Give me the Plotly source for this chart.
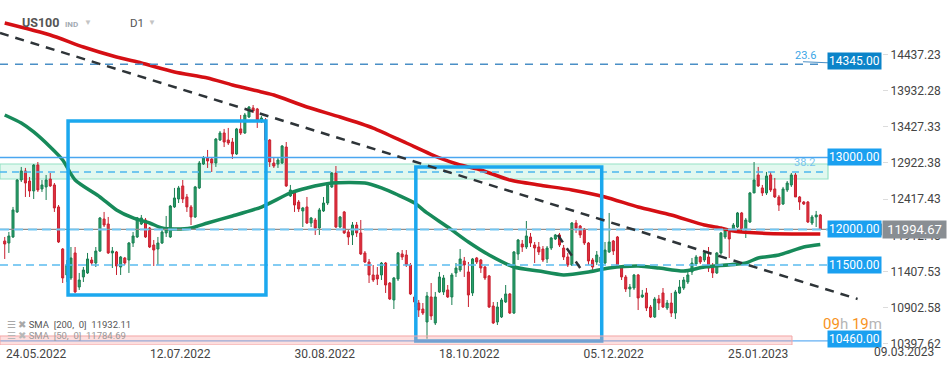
import plotly.graph_objects as go

# ---------------- data ----------------
open_ = [11834, 11806, 11890, 12239, 12685, 12811, 12671, 12532, 12894, 12560,
         12588, 12699, 12616, 12309, 11722, 11360, 11318, 11667, 11192, 11332,
         11388, 11569, 11527, 11694, 12141, 12071, 11667, 11681, 11471, 11597,
         11569, 11806, 11890, 12071, 12127, 12015, 11778, 11722, 11806, 11946,
         11890, 12309, 12420, 12602, 12448, 12309, 12169, 12574, 12908, 12992,
         12978, 12922, 13243, 13341, 13243, 13215, 13048, 13397, 13341, 13564,
         13690, 13676, 13508, 13522, 13243, 12922, 12908, 12922, 13145, 12462,
         12504, 12378, 12253, 12309, 12085, 12127, 12015, 12253, 12364, 12588,
         12783, 12029, 12239, 11960, 11918, 12057, 11946, 11667, 11541, 11360,
         11360, 11360, 11527, 11248, 11011, 11304, 11653, 11639, 11499, 11053,
         10969, 10885, 10704, 11053, 10690, 11123, 11123, 11151, 11053, 11388,
         11429, 11555, 11402, 11109, 11597, 11569, 11471, 11346, 10927, 10704,
         10774, 10983, 11095, 10829, 11653, 11792, 11750, 11890, 11778, 11750,
         11722, 11583, 11736, 11862, 11918, 11736, 11611, 11499, 12085, 12043,
         12001, 11806, 11569, 11541, 11527, 11527, 11681, 11834, 11890, 11471,
         11332, 11164, 11178, 11360, 11053, 11109, 10913, 10774, 11025, 11109,
         10899, 10969, 10829, 11109, 11178, 11262, 11402, 11513, 11611, 11569,
         11611, 11471, 11388, 11667, 11890, 11960, 11974, 12029, 12225, 11988,
         12099, 12504, 12755, 12574, 12504, 12755, 12560, 12448, 12350, 12546,
         12616, 12755, 12448, 12378, 12378, 12085, 12169, 12197]
high = [11890, 11960, 12309, 12699, 12867, 12853, 12727, 12908, 12936, 12685,
        12755, 12783, 12643, 12336, 11736, 11569, 11750, 11750, 11388, 11471,
        11667, 11611, 11750, 12169, 12239, 12169, 11750, 11694, 11625, 11611,
        11820, 11960, 12169, 12197, 12155, 12029, 11848, 11890, 12015, 12183,
        12336, 12574, 12602, 12685, 12490, 12336, 12602, 12950, 13020, 13104,
        13006, 13271, 13369, 13397, 13411, 13271, 13411, 13592, 13620, 13717,
        13731, 13690, 13578, 13550, 13257, 13006, 12992, 13173, 13215, 12616,
        12518, 12406, 12309, 12448, 12169, 12155, 12295, 12448, 12643, 12797,
        12880, 12183, 12253, 11988, 12099, 12099, 12127, 11694, 11583, 11499,
        11471, 11541, 11541, 11262, 11332, 11681, 11708, 11708, 11527, 11081,
        11011, 10969, 11123, 11248, 11123, 11402, 11360, 11220, 11388, 11527,
        11722, 11611, 11541, 11597, 11611, 11583, 11485, 11360, 10983, 10983,
        11039, 11220, 11109, 11694, 11862, 11848, 12113, 11946, 11820, 11820,
        11764, 11764, 11890, 11932, 11946, 11778, 11667, 12099, 12127, 12057,
        12015, 11820, 11597, 11694, 11639, 11820, 12225, 11848, 11904, 11499,
        11360, 11234, 11374, 11374, 11151, 11178, 10941, 11053, 11081, 11178,
        11011, 11109, 11151, 11290, 11332, 11402, 11597, 11639, 11625, 11694,
        11750, 11527, 11681, 11960, 12015, 11988, 12085, 12239, 12239, 12155,
        12518, 12936, 12867, 12616, 12797, 12797, 12713, 12476, 12588, 12671,
        12783, 12783, 12462, 12392, 12392, 12197, 12253, 12211]
low = [11583, 11667, 11876, 12225, 12657, 12448, 12448, 12420, 12518, 12518,
       12406, 12588, 12239, 11806, 11248, 11262, 11290, 11109, 11151, 11262,
       11374, 11499, 11471, 11681, 12029, 11653, 11457, 11360, 11360, 11499,
       11388, 11750, 11876, 12057, 11876, 11736, 11485, 11499, 11792, 11890,
       11876, 12295, 12364, 12364, 12239, 12057, 12155, 12560, 12894, 12853,
       12797, 12867, 13229, 13145, 13173, 12978, 13034, 13313, 13327, 13550,
       13620, 13411, 13480, 13215, 12867, 12853, 12853, 12908, 12588, 12448,
       12239, 12239, 12029, 12071, 12029, 11918, 11918, 12239, 12336, 12574,
       12015, 12015, 11932, 11778, 11778, 11890, 11639, 11527, 11248, 11262,
       11220, 11290, 11109, 11011, 10885, 11276, 11569, 11471, 11081, 10913,
       10774, 10802, 10470, 10732, 10662, 11109, 11081, 11039, 10941, 11332,
       11402, 11332, 10913, 11067, 11513, 11388, 11290, 10899, 10676, 10662,
       10760, 10969, 10815, 10815, 11569, 11681, 11722, 11750, 11527, 11639,
       11541, 11527, 11708, 11848, 11750, 11569, 11471, 11485, 11946, 11876,
       11778, 11499, 11429, 11499, 11499, 11513, 11667, 11639, 11457, 11290,
       11123, 11053, 11151, 10871, 11039, 10857, 10760, 10760, 10871, 10899,
       10871, 10774, 10746, 11095, 11151, 11234, 11360, 11485, 11513, 11541,
       11402, 11318, 11374, 11639, 11862, 11597, 11960, 12015, 11974, 11876,
       12085, 12504, 12588, 12462, 12476, 12518, 12434, 12253, 12336, 12518,
       12588, 12448, 12267, 12336, 12085, 12057, 12029, 11988]
close = [11792, 11904, 12267, 12685, 12811, 12643, 12532, 12894, 12546, 12616,
         12685, 12602, 12295, 11820, 11318, 11499, 11597, 11123, 11290, 11429,
         11583, 11527, 11694, 12155, 12057, 11667, 11694, 11485, 11611, 11527,
         11806, 11904, 12155, 12155, 11890, 11750, 11708, 11806, 11960, 12015,
         12322, 12434, 12574, 12420, 12309, 12169, 12588, 12922, 12992, 12950,
         12922, 13257, 13341, 13215, 13201, 13048, 13397, 13341, 13592, 13703,
         13648, 13522, 13550, 13243, 12936, 12880, 12964, 13159, 12602, 12546,
         12336, 12281, 12295, 12085, 12155, 12015, 12267, 12364, 12616, 12783,
         12029, 12169, 11946, 11890, 12057, 11946, 11653, 11541, 11360, 11290,
         11304, 11527, 11220, 11025, 11318, 11667, 11611, 11499, 11095, 10983,
         10871, 10829, 11067, 10788, 11053, 11332, 11318, 11053, 11360, 11457,
         11583, 11499, 11081, 11583, 11541, 11457, 11318, 10913, 10690, 10913,
         11011, 11095, 10829, 11681, 11848, 11750, 11904, 11806, 11736, 11681,
         11569, 11736, 11876, 11918, 11778, 11611, 11499, 12085, 12015, 11918,
         11806, 11555, 11471, 11639, 11611, 11708, 11820, 11694, 11471, 11332,
         11164, 11192, 11360, 11039, 11081, 10899, 10774, 11025, 10969, 10913,
         10969, 10829, 11123, 11192, 11290, 11360, 11527, 11611, 11541, 11667,
         11457, 11388, 11667, 11946, 11988, 11862, 12057, 12225, 11988, 12127,
         12504, 12685, 12602, 12504, 12741, 12546, 12448, 12336, 12560, 12643,
         12755, 12448, 12378, 12350, 12099, 12169, 12197, 11994.67]
bar_index = list(range(len(close)))

sma200_idx = [0, 11, 19, 27, 33, 41, 49, 55, 62, 65, 73, 81, 89, 97, 105, 110, 115,
              122, 129, 137, 145, 153, 161, 169, 173, 176, 184, 197]
sma200_val = [14875, 14708, 14540, 14401, 14317, 14192, 14108, 14010, 13913, 13871,
              13703, 13564, 13410, 13201, 12992, 12894, 12825, 12685, 12615, 12546,
              12448, 12308, 12197, 12057, 12015, 11974, 11940, 11932.11]
sma50_idx = [0, 4, 7, 11, 14, 17, 23, 27, 31, 35, 38, 41, 45, 49, 55, 62, 69, 73, 79,
             87, 91, 95, 99, 102, 107, 112, 117, 123, 129, 135, 141, 146, 153, 158,
             164, 169, 179, 182, 187, 193, 197]
sma50_val = [13592, 13480, 13355, 13145, 12964, 12685, 12448, 12267, 12155, 12085,
             12015, 12001, 12015, 12085, 12183, 12308, 12504, 12574, 12643, 12643,
             12574, 12476, 12364, 12225, 12029, 11820, 11639, 11471, 11415, 11360,
             11402, 11457, 11485, 11457, 11415, 11471, 11527, 11597, 11639, 11750,
             11784.69]

y_tickvals = [10397.62, 10902.58, 11407.53, 11912.48, 12417.43, 12922.38,
              13427.33, 13932.28, 14437.23]
y_ticktext = ["10397.62", "10902.58", "11407.53", "11912.48", "12417.43",
              "12922.38", "13427.33", "13932.28", "14437.23"]
x_tickvals = [7.6, 42.4, 77.3, 112.2, 147.1, 182.0]
x_ticktext = ["24.05.2022", "12.07.2022", "30.08.2022", "18.10.2022",
              "05.12.2022", "25.01.2023"]
future_tick = "09.03.2023"

levels = [14345.00, 13000.00, 12000.00, 11500.00, 10460.00]
last_price = 11994.67
fib_levels = {"23.6": 14300, "38.2": 12797}
zone_mint = (12699, 12908)
zone_pink = (10383, 10509)
box1 = (15.3, 63.1, 11081, 13508)
box2 = (99.3, 144.2, 10439, 12867)
trend_main = ((-1.14, 14736), (206.0, 11025))
trend_short = ((133.6, 11918), (139.0, 11457))

# ---------------- figure ----------------
FONT = "Roboto"
BLUE_TAG = "#1aa0f0"
fig = go.Figure()

fig.add_trace(go.Candlestick(
    x=bar_index, open=open_, high=high, low=low, close=close,
    increasing=dict(line=dict(color="#1b7f52", width=1), fillcolor="#27a06b"),
    decreasing=dict(line=dict(color="#c8202f", width=1), fillcolor="#e2303f"),
    whiskerwidth=0, hoverinfo="skip", showlegend=False))

fig.add_trace(go.Scatter(x=sma200_idx, y=sma200_val, mode="lines",
                         line=dict(color="#d50f14", width=3.5, shape="spline", smoothing=0.6),
                         hoverinfo="skip", showlegend=False))
fig.add_trace(go.Scatter(x=sma50_idx, y=sma50_val, mode="lines",
                         line=dict(color="#178a5a", width=3.5, shape="spline", smoothing=0.6),
                         hoverinfo="skip", showlegend=False))

shapes = []
xr = 828 / 882
# mint zone
shapes.append(dict(type="rect", xref="paper", yref="y", x0=0, x1=xr, y0=zone_mint[0], y1=zone_mint[1],
                   fillcolor="rgba(200,242,226,0.55)", line=dict(color="#96e2c5", width=1.2), layer="below"))
# fib 38.2 dashed
shapes.append(dict(type="line", xref="paper", yref="y", x0=0, x1=0.935, y0=fib_levels["38.2"], y1=fib_levels["38.2"],
                   line=dict(color="#4cb6ee", width=1.5, dash="7px,5px"), layer="above"))
# fib 23.6 dashed
shapes.append(dict(type="line", xref="paper", yref="y", x0=0, x1=0.93, y0=fib_levels["23.6"], y1=fib_levels["23.6"],
                   line=dict(color="#4a8fc6", width=1.3, dash="8px,7px"), layer="above"))
shapes.append(dict(type="line", xref="paper", yref="y", x0=803 / 882, x1=xr, y0=14335, y1=14320,
                   line=dict(color="#4a8fc6", width=1), layer="above"))
# 13000 solid
shapes.append(dict(type="line", xref="paper", yref="y", x0=0, x1=xr, y0=levels[1], y1=levels[1],
                   line=dict(color="#4aa6f0", width=1.5), layer="above"))
# last price grey + 12000 dashed
shapes.append(dict(type="line", xref="paper", yref="y", x0=0, x1=1, y0=last_price, y1=last_price,
                   line=dict(color="#8d8d8d", width=1.2), layer="above"))
shapes.append(dict(type="line", xref="paper", yref="y", x0=0, x1=xr, y0=levels[2] - 6, y1=levels[2] - 6,
                   line=dict(color="#72c6f2", width=2, dash="9px,5px"), layer="above"))
# 11500 dashed
shapes.append(dict(type="line", xref="paper", yref="y", x0=0, x1=xr, y0=levels[3], y1=levels[3],
                   line=dict(color="#5bbcf0", width=1.5, dash="8px,5px"), layer="above"))
# blue boxes
for bx in (box1, box2):
    shapes.append(dict(type="rect", xref="x", yref="y", x0=bx[0], x1=bx[1], y0=bx[2], y1=bx[3],
                       line=dict(color="#1ba8ee", width=3.5), fillcolor="rgba(0,0,0,0)", layer="above"))
# 10460 solid
shapes.append(dict(type="line", xref="paper", yref="y", x0=0, x1=xr, y0=levels[4] - 20, y1=levels[4] - 20,
                   line=dict(color="#3b9cf0", width=1), layer="above"))
# pink zone
shapes.append(dict(type="rect", xref="paper", yref="y", x0=0, x1=792 / 882, y0=zone_pink[0], y1=zone_pink[1],
                   fillcolor="rgba(250,160,160,0.35)", line=dict(color="#f3a7a7", width=1), layer="above"))
# trend lines
for tl in (trend_main, trend_short):
    shapes.append(dict(type="line", xref="x", yref="y", x0=tl[0][0], y0=tl[0][1], x1=tl[1][0], y1=tl[1][1],
                       line=dict(color="#2e3438", width=2.5, dash="9px,7px"), layer="above"))
# pointer of last-price tag
shapes.append(dict(type="path", xref="paper", yref="y",
                   path=f"M 1.0,{last_price + 90} L 0.9935,{last_price} L 1.0,{last_price - 90} Z",
                   fillcolor="#898e93", line=dict(width=0), layer="above"))
fig.update_layout(shapes=shapes)

ann = []
tag_x = 827 / 882
tag_colors = ["#0b84c9", BLUE_TAG, BLUE_TAG, BLUE_TAG, BLUE_TAG]
for lv, col in zip(levels, tag_colors):
    ann.append(dict(xref="paper", yref="y", x=tag_x, y=lv, xanchor="left", yanchor="middle",
                    text=f"{lv:.2f}", showarrow=False, bgcolor=col, borderpad=1,
                    font=dict(family=FONT, size=12, color="white")))
ann.append(dict(xref="paper", yref="y", x=1.0, y=last_price, xanchor="left", yanchor="middle",
                text=f" {last_price:.2f} ", showarrow=False, bgcolor="#898e93", borderpad=1,
                font=dict(family=FONT, size=13, color="white")))
ann.append(dict(xref="paper", yref="y", x=805 / 882, y=14415, xanchor="center", yanchor="middle",
                text="23.6", showarrow=False, font=dict(family=FONT, size=11, color="#3aa6e6")))
ann.append(dict(xref="paper", yref="y", x=804 / 882, y=12936, xanchor="center", yanchor="middle",
                text="38.2", showarrow=False, font=dict(family=FONT, size=11, color="#78c4ee")))
ann.append(dict(xref="paper", yref="y", x=821 / 882, y=10670, xanchor="left", yanchor="middle",
                text="<span style='color:#f7931e'>09</span><span style='color:#b5b5b5'>h</span> "
                     "<span style='color:#f7931e'>19</span><span style='color:#b5b5b5'>m</span>",
                showarrow=False, font=dict(family=FONT, size=15)))
ann.append(dict(xref="paper", yref="y", x=5 / 882, y=10676, xanchor="left", yanchor="middle",
                text="<span style='color:#a8a8a8'>☰ ✖</span> SMA  [200,  0]  11932.11", showarrow=False,
                font=dict(family=FONT, size=9.5, color="#555")))
ann.append(dict(xref="paper", yref="y", x=5 / 882, y=10509, xanchor="left", yanchor="middle",
                text="<span style='color:#b8b8b8'>☰ ✖</span> SMA  [50,  0]  11784.69", showarrow=False,
                font=dict(family=FONT, size=9.5, color="#999")))
# header
ann.append(dict(xref="paper", yref="paper", x=20 / 882, y=1 - 23 / 345, xanchor="left", yanchor="middle",
                text="<b>US100</b>", showarrow=False, font=dict(family=FONT, size=12.5, color="#555")))
ann.append(dict(xref="paper", yref="paper", x=63 / 882, y=1 - 24 / 345, xanchor="left", yanchor="middle",
                text="<b>IND</b>", showarrow=False, font=dict(family=FONT, size=8, color="#a3abb3")))
ann.append(dict(xref="paper", yref="paper", x=88 / 882, y=1 - 22 / 345, xanchor="center", yanchor="middle",
                text="▼", showarrow=False, font=dict(family=FONT, size=8, color="#c4c4c4")))
ann.append(dict(xref="paper", yref="paper", x=128 / 882, y=1 - 23 / 345, xanchor="left", yanchor="middle",
                text="D1", showarrow=False, font=dict(family=FONT, size=11.5, color="#555")))
ann.append(dict(xref="paper", yref="paper", x=152 / 882, y=1 - 22 / 345, xanchor="center", yanchor="middle",
                text="▼", showarrow=False, font=dict(family=FONT, size=8, color="#c4c4c4")))
ann.append(dict(xref="paper", yref="paper", x=904 / 882, y=-7 / 345, xanchor="center", yanchor="middle",
                text=future_tick, showarrow=False, font=dict(family=FONT, size=12, color="#444")))
fig.update_layout(annotations=ann)

fig.update_layout(
    width=949, height=370,
    margin=dict(l=0, r=67, t=0, b=25),
    paper_bgcolor="white", plot_bgcolor="white",
    showlegend=False, hovermode=False,
    font=dict(family=FONT, size=12, color="#444"),
    xaxis=dict(range=[-1.14, 211.9], showgrid=False, zeroline=False, showline=False,
               tickvals=x_tickvals, ticktext=x_ticktext, ticks="",
               tickfont=dict(family=FONT, size=12, color="#444"),
               rangeslider=dict(visible=False), fixedrange=True),
    yaxis=dict(range=[10383, 15196], side="right", showgrid=False, zeroline=False, showline=False,
               tickvals=y_tickvals, ticktext=y_ticktext, ticks="outside", ticklen=5,
               tickcolor="#dcdcdc", tickfont=dict(family=FONT, size=12, color="#444"),
               fixedrange=True, automargin=False),
)
fig.update_xaxes(automargin=False)

fig.write_html("out.html", config={"displayModeBar": False},
               post_script="document.body.style.margin='0';document.body.style.overflow='hidden';")
